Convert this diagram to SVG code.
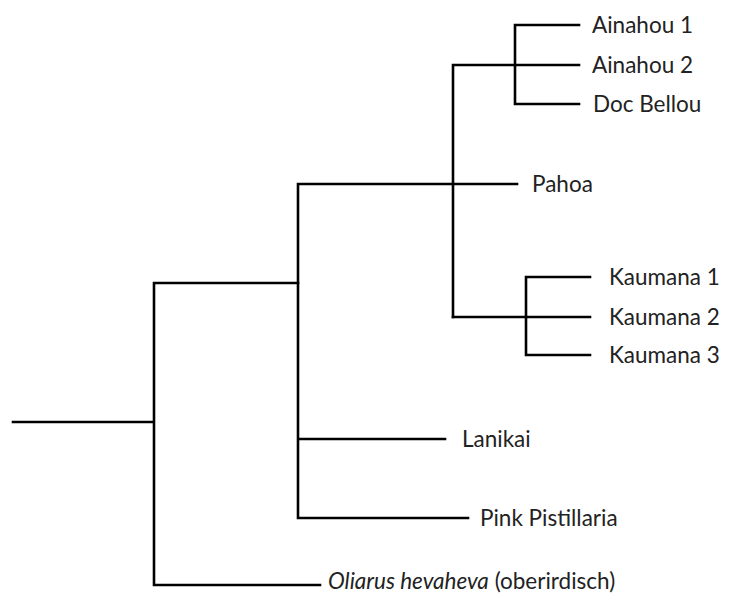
<svg xmlns="http://www.w3.org/2000/svg" width="729" height="594" viewBox="0 0 729 594">
<style>
.e{fill:none;stroke:#000;stroke-width:2.6;stroke-linecap:square}
.t{font-family:Lato,"Liberation Sans",sans-serif;font-size:22.5px;fill:#222}
.i{font-style:italic}
</style>
<rect width="729" height="594" fill="#fff"/>
<g id="connectors">
<path class="e" d="M13,422H154M154,283V585M154,283H298M154,585H320"/>
<path class="e" d="M298,184V518M298,184H517M298,439H445M298,518H468"/>
<path class="e" d="M453,65V317M453,65H579M515,25V104M515,25H579M515,104H579"/>
<path class="e" d="M453,317H590M526,277V355M526,277H590M526,355H590"/>
</g>
<g id="ainahou1"><text class="t" x="592" y="33">Ainahou 1</text></g>
<g id="ainahou2"><text class="t" x="592" y="73">Ainahou 2</text></g>
<g id="docbellou"><text class="t" x="593" y="112">Doc Bellou</text></g>
<g id="pahoa"><text class="t" x="532" y="192">Pahoa</text></g>
<g id="kaumana1"><text class="t" x="609" y="285">Kaumana 1</text></g>
<g id="kaumana2"><text class="t" x="609" y="325">Kaumana 2</text></g>
<g id="kaumana3"><text class="t" x="609" y="363">Kaumana 3</text></g>
<g id="lanikai"><text class="t" x="462" y="447">Lanikai</text></g>
<g id="pink"><text class="t" x="480" y="526">Pink Pistillaria</text></g>
<g id="oliarus"><text class="t" x="328" y="589"><tspan class="i">Oliarus hevaheva</tspan> (oberirdisch)</text></g>
</svg>
